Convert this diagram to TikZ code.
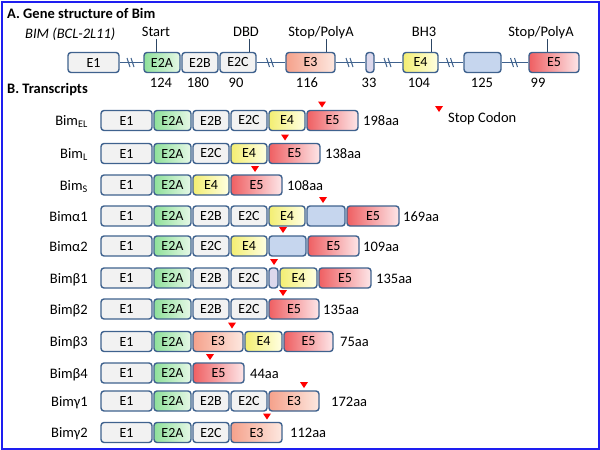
\documentclass[tikz,border=0pt]{standalone}
\usepackage{fontspec}
\setmainfont{Carlito}
\usetikzlibrary{calc}

\definecolor{exline}{HTML}{3F628E}
\definecolor{exgrey}{HTML}{F2F2F2}
\definecolor{greenA}{HTML}{8EE09A}
\definecolor{greenB}{HTML}{E6F8E6}
\definecolor{yellowA}{HTML}{F3EE72}
\definecolor{yellowB}{HTML}{FFFFE2}
\definecolor{salmonA}{HTML}{F5A18B}
\definecolor{salmonB}{HTML}{FDE8E0}
\definecolor{redA}{HTML}{EF5F62}
\definecolor{redB}{HTML}{FDE6E8}
\definecolor{exblue}{HTML}{C6D6EE}
\definecolor{exlilac}{HTML}{DCD8EC}
\definecolor{frameblue}{HTML}{1E1EF0}

\tikzset{
  exon/.style={draw=exline, line width=1.4pt, rounded corners=3pt, minimum height=20pt,
    inner sep=0pt, font=\fontsize{14}{15}\selectfont},
  grayex/.style={fill=exgrey},
  greenex/.style={left color=greenA, right color=greenB},
  yellowex/.style={left color=yellowA, right color=yellowB},
  salmonex/.style={left color=salmonA, right color=salmonB},
  redex/.style={left color=redA, right color=redB},
  blueex/.style={fill=exblue},
  lilacex/.style={fill=exlilac},
  lab/.style={inner sep=0pt, font=\fontsize{14.5}{16}\selectfont},
  head/.style={inner sep=0pt, anchor=base west, font=\bfseries\fontsize{14.5}{16}\selectfont},
  brk/.style={draw=exline, line width=1pt},
  tick/.style={draw=exline!70!black, line width=0.9pt},
}

\newcommand{\exon}[6]{\node[exon,#5,minimum width={(#3-#2-2)*1pt}] (#1) at ({(#2+#3)/2},#4) {#6};}
\newcommand{\stopmark}[2]{\fill[red] ({#1-4},{#2-19}) -- ({#1+4},{#2-19}) -- (#1,{#2-13}) -- cycle;}
\newcommand{\exbreak}[2]{\draw[brk] (#1.east) -- (#2.west);
  \draw[brk] ($(#1.east)!.5!(#2.west)$) ++(-4.5,-4.5) -- ++(3,9) ++(1,-9) -- ++(3,9);}

\begin{document}
\begin{tikzpicture}[x=1pt,y=-1pt]
  \useasboundingbox (0,0) rectangle (600,450);
  \draw[frameblue, line width=2pt] (1.5,1.5) rectangle (598.5,448.5);

  \node[head] (titleA) at (7,18.5) {A. Gene structure of Bim};
  \node[lab,anchor=base west,font=\itshape\fontsize{14.5}{16}\selectfont] (gene) at (25,38) {BIM (BCL-2L11)};

  \exon{gn1}{67}{120}{62.5}{grayex}{E1}
  \exon{gn2a}{143}{181}{62.5}{greenex}{E2A}
  \exon{gn2b}{181}{219}{62.5}{grayex}{E2B}
  \exon{gn2c}{219}{257}{62.5}{grayex}{E2C}
  \exon{gn3}{285}{336}{62.5}{salmonex}{E3}
  \exon{gnx}{365}{375}{62.5}{lilacex}{}
  \exon{gn4}{402}{439}{62.5}{yellowex}{E4}
  \exon{gnb}{463}{502}{62.5}{blueex}{}
  \exon{gn5}{528}{580}{62.5}{redex}{E5}
  \exbreak{gn1}{gn2a}
  \exbreak{gn2c}{gn3}
  \exbreak{gn3}{gnx}
  \exbreak{gnx}{gn4}
  \exbreak{gn4}{gnb}
  \exbreak{gnb}{gn5}

  \node[lab,anchor=base] (start) at (156,36) {Start};
  \node[lab,anchor=base] (dbd) at (246,36) {DBD};
  \node[lab,anchor=base] (polyA) at (321,36) {Stop/PolyA};
  \node[lab,anchor=base] (bh3) at (424,36) {BH3};
  \node[lab,anchor=base] (polyB) at (541,36) {Stop/PolyA};
  \draw[tick] ([yshift=-3pt]start.base) -- (start.base |- gn2a.north);
  \draw[tick] ([xshift=3pt,yshift=-3pt]dbd.base) -- ([xshift=3pt]dbd.base |- gn2c.north);
  \draw[tick] ([xshift=5pt,yshift=-3pt]polyA.base) -- ([xshift=5pt]polyA.base |- gn3.north);
  \draw[tick] ([xshift=7pt,yshift=-3pt]bh3.base) -- ([xshift=7pt]bh3.base |- gn4.north);
  \draw[tick] ([xshift=6pt,yshift=-3pt]polyB.base) -- ([xshift=6pt]polyB.base |- gn5.north);

  \foreach \nx/\num in {161/124,198/180,236/90,307/116,369/33,419/104,482/125,538/99}
    \node[lab,anchor=base] (n\num) at (\nx,87) {\num};

  \node[head] (titleB) at (7,93.5) {B. Transcripts};
  \fill[red] (435,106) -- (443,106) -- (439,112) -- cycle;
  \node[lab,anchor=base west] (legend) at (448,122.7) {Stop Codon};

  \foreach \ry/\id/\bimname/\aalen/\aax/\stopx in {
      120.5/el/{Bim\textsubscript{EL}}/198aa/363/322,
      153.5/l/{Bim\textsubscript{L}}/138aa/325/285,
      185/s/{Bim\textsubscript{S}}/108aa/287/255,
      216/a1/{Bimα1}/169aa/403/323,
      246/a2/{Bimα2}/109aa/363/283,
      278/b1/{Bimβ1}/135aa/376/274,
      309/b2/{Bimβ2}/135aa/323/283,
      341.5/b3/{Bimβ3}/75aa/340/232,
      373/b4/{Bimβ4}/44aa/250/210,
      401/c1/{Bimγ1}/172aa/331/304,
      432.5/c2/{Bimγ2}/112aa/290/267}{
    \node[lab,anchor=base east] (\id-name) at (88,{\ry+5}) {\bimname};
    \exon{\id-1}{100}{153}{\ry}{grayex}{E1}
    \exon{\id-2a}{153}{192}{\ry}{greenex}{E2A}
    \node[lab,anchor=base west] (\id-len) at (\aax,{\ry+5}) {\aalen};
    \stopmark{\stopx}{\ry}
  }

  \exon{el-2b}{192}{230}{120.5}{grayex}{E2B}
  \exon{el-2c}{230}{268}{120.5}{grayex}{E2C}
  \exon{el-4}{268}{306}{120.5}{yellowex}{E4}
  \exon{el-5}{306}{359}{120.5}{redex}{E5}

  \exon{l-2c}{192}{230}{153.5}{grayex}{E2C}
  \exon{l-4}{230}{268}{153.5}{yellowex}{E4}
  \exon{l-5}{268}{321}{153.5}{redex}{E5}

  \exon{s-4}{192}{230}{185}{yellowex}{E4}
  \exon{s-5}{230}{283}{185}{redex}{E5}

  \exon{a1-2b}{192}{230}{216}{grayex}{E2B}
  \exon{a1-2c}{230}{268}{216}{grayex}{E2C}
  \exon{a1-4}{268}{306}{216}{yellowex}{E4}
  \exon{a1-x}{306}{346}{216}{blueex}{}
  \exon{a1-5}{346}{400}{216}{redex}{E5}

  \exon{a2-2c}{192}{230}{246}{grayex}{E2C}
  \exon{a2-4}{230}{268}{246}{yellowex}{E4}
  \exon{a2-x}{268}{307}{246}{blueex}{}
  \exon{a2-5}{307}{360}{246}{redex}{E5}

  \exon{b1-2b}{192}{230}{278}{grayex}{E2B}
  \exon{b1-2c}{230}{268}{278}{grayex}{E2C}
  \exon{b1-x}{268}{279}{278}{lilacex}{}
  \exon{b1-4}{279}{318}{278}{yellowex}{E4}
  \exon{b1-5}{318}{372}{278}{redex}{E5}

  \exon{b2-2b}{192}{230}{309}{grayex}{E2B}
  \exon{b2-2c}{230}{268}{309}{grayex}{E2C}
  \exon{b2-5}{268}{320}{309}{redex}{E5}

  \exon{b3-3}{192}{244}{341.5}{salmonex}{E3}
  \exon{b3-4}{244}{283}{341.5}{yellowex}{E4}
  \exon{b3-5}{283}{334}{341.5}{redex}{E5}

  \exon{b4-5}{192}{245}{373}{redex}{E5}

  \exon{c1-2b}{192}{230}{401}{grayex}{E2B}
  \exon{c1-2c}{230}{268}{401}{grayex}{E2C}
  \exon{c1-3}{268}{320}{401}{salmonex}{E3}

  \exon{c2-2c}{192}{230}{432.5}{grayex}{E2C}
  \exon{c2-3}{230}{283}{432.5}{salmonex}{E3}
\end{tikzpicture}
\end{document}
